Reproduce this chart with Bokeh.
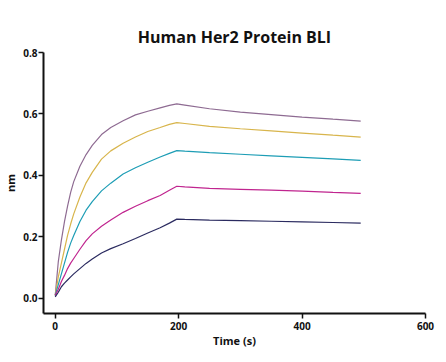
from bokeh.plotting import figure
from bokeh.embed import file_html
from bokeh.resources import INLINE
from bokeh.models import Range1d, FixedTicker, Title

time_s = [0, 5, 10, 15, 20, 25, 30, 40, 50, 60, 75, 90, 110, 130, 150, 170, 185, 197,
          210, 250, 300, 350, 400, 450, 495]

purple = [0.01, 0.12, 0.19, 0.25, 0.30, 0.345, 0.38, 0.43, 0.468, 0.498, 0.533, 0.556, 0.578, 0.597, 0.609, 0.62, 0.628, 0.633,
          0.629, 0.617, 0.606, 0.598, 0.59, 0.583, 0.577]
yellow = [0.01, 0.07, 0.115, 0.16, 0.205, 0.242, 0.275, 0.33, 0.376, 0.41, 0.453, 0.48, 0.505, 0.525, 0.543, 0.556, 0.566, 0.572,
          0.569, 0.56, 0.552, 0.545, 0.538, 0.531, 0.525]
cyan = [0.01, 0.045, 0.08, 0.115, 0.15, 0.18, 0.205, 0.25, 0.287, 0.315, 0.35, 0.375, 0.405, 0.425, 0.443, 0.46, 0.472, 0.481,
        0.479, 0.474, 0.469, 0.464, 0.459, 0.454, 0.449]
magenta = [0.01, 0.03, 0.055, 0.075, 0.097, 0.115, 0.13, 0.16, 0.188, 0.21, 0.235, 0.255, 0.28, 0.30, 0.318, 0.335, 0.352, 0.365,
           0.363, 0.358, 0.355, 0.352, 0.349, 0.345, 0.342]
navy = [0.005, 0.02, 0.038, 0.05, 0.06, 0.07, 0.08, 0.097, 0.114, 0.128, 0.148, 0.162, 0.178, 0.195, 0.213, 0.23, 0.245, 0.258,
        0.257, 0.255, 0.253, 0.251, 0.249, 0.247, 0.245]

series = [
    (purple, "#8e6b92"),
    (yellow, "#d8b54c"),
    (cyan, "#1d9db5"),
    (magenta, "#c0258f"),
    (navy, "#2b2b60"),
]

x_ticks = [0, 200, 400, 600]
y_ticks = [0.0, 0.2, 0.4, 0.6, 0.8]
title_text = "Human Her2 Protein BLI"

FONT = "Open Sans"

p = figure(width=446, height=362, output_backend="svg", toolbar_location=None,
           x_range=Range1d(-19, 600), y_range=Range1d(-0.049, 0.8),
           min_border_left=41, min_border_right=21, min_border_top=52, min_border_bottom=49)
p.outline_line_color = None
p.grid.visible = False

for vals, col in series:
    p.line(time_s, vals, line_color=col, line_width=1.2)

t = Title(text=title_text, align="center", text_font=FONT,
          text_font_size="16px", text_font_style="bold", text_color="#111111",
          offset=-10)
p.add_layout(t, "above")

for ax in (p.xaxis[0], p.yaxis[0]):
    ax.axis_line_width = 2
    ax.axis_line_color = "#111111"
    ax.major_tick_line_width = 1.5
    ax.major_tick_line_color = "#111111"
    ax.major_tick_out = 5
    ax.major_tick_in = 0
    ax.minor_tick_line_color = None
    ax.major_label_text_font = FONT
    ax.major_label_text_font_style = "bold"
    ax.major_label_text_font_size = "10px"
    ax.major_label_text_color = "#111111"
    ax.axis_label_text_font = FONT
    ax.axis_label_text_font_style = "bold"
    ax.axis_label_text_font_size = "11px"
    ax.axis_label_text_color = "#111111"

p.xaxis.ticker = FixedTicker(ticks=x_ticks)
p.yaxis.ticker = FixedTicker(ticks=y_ticks)
p.yaxis.major_label_overrides = {v: f"{v:.1f}" for v in y_ticks}
p.xaxis.axis_label = "Time (s)"
p.yaxis.axis_label = "nm"
p.xaxis.major_label_standoff = 3
p.yaxis.major_label_standoff = 1
p.xaxis.axis_label_standoff = 0
p.yaxis.axis_label_standoff = 2

open("out.html", "w").write(file_html(p, INLINE))
